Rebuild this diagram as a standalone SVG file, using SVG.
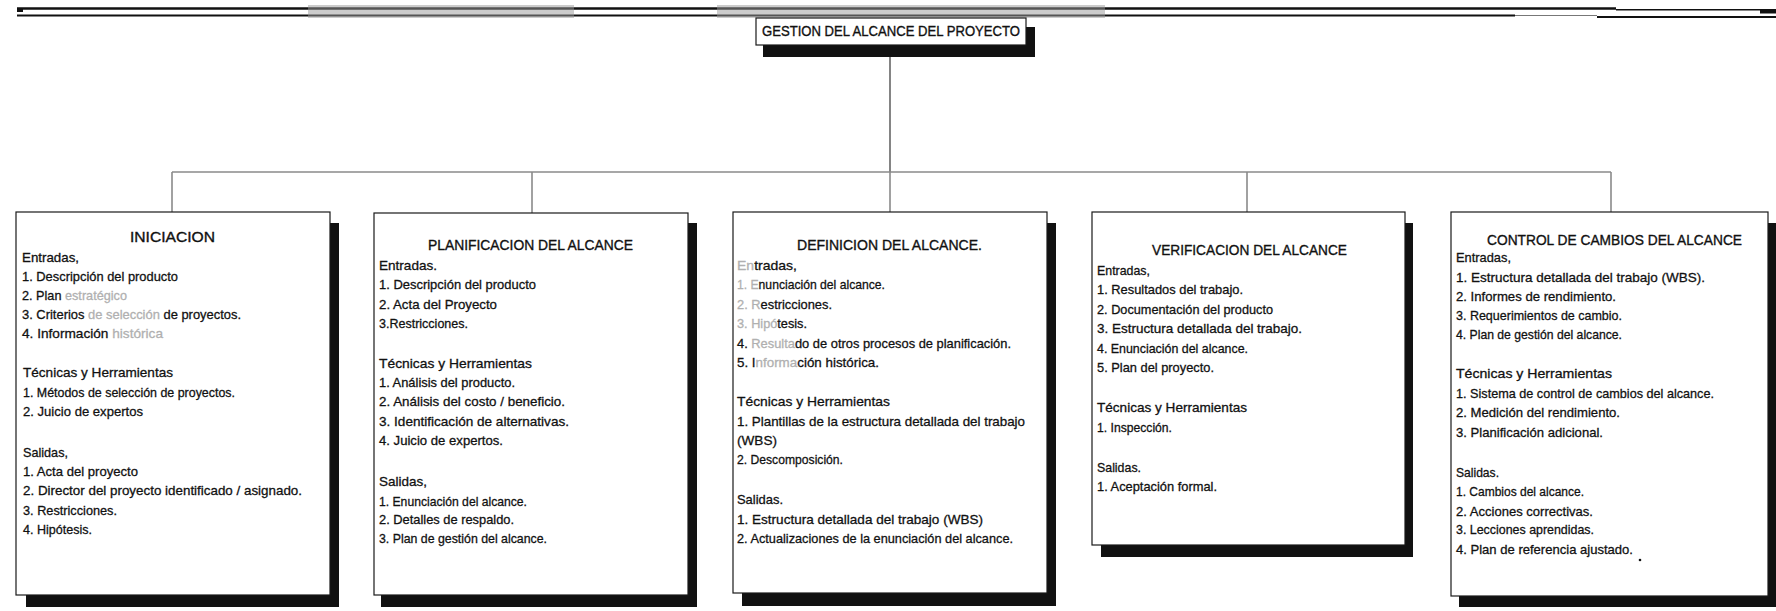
<svg xmlns="http://www.w3.org/2000/svg" width="1776" height="611" viewBox="0 0 1776 611">
  <defs>
    <style>
      .frame { fill: #fff; stroke: #1a1a1a; stroke-width: 1.2; }
      .shadow { fill: #111; }
      .rule { stroke: #111; fill: none; }
      .link { stroke: #8a8a8a; stroke-width: 1.6; fill: none; }
      .stem { stroke: #333; stroke-width: 1.2; fill: none; }
      .t { font-family: "Liberation Sans", Arial, sans-serif; font-size: 13.5px; fill: #111; stroke: #111; stroke-width: 0.3; }
      .h { font-family: "Liberation Sans", Arial, sans-serif; font-size: 14px; fill: #111; stroke: #111; stroke-width: 0.35; }
      .g { fill: #b0b0b0; stroke: #b0b0b0; }
    </style>
  </defs>
  <rect width="1776" height="611" fill="#fff"/>

  <!-- page header rules -->
  <g id="header-rules">
    <path class="rule" d="M17,8.5 H1616" stroke-width="2.6"/>
    <path class="rule" d="M1616,9.8 H1776" stroke-width="1.6"/>
    <rect x="17" y="8" width="6" height="4" fill="#111"/>
    <path class="rule" d="M17,15.5 H1515" stroke-width="1.8"/>
    <path d="M1515,15.5 H1597" stroke="#777" stroke-width="1"/>
    <path class="rule" d="M1597,17 H1776" stroke-width="2.2"/>
    <rect x="1760" y="10" width="16" height="3.5" fill="#111"/>
    <rect x="308" y="5" width="266" height="13" fill="#9a9a9a" opacity="0.5"/>
    <rect x="717" y="5" width="388" height="13" fill="#9a9a9a" opacity="0.5"/>
  </g>

  <!-- connectors -->
  <g id="connectors">
    <path class="stem" d="M890,57 V172"/>
    <path class="link" d="M172,172 H1611"/>
    <path class="link" d="M172,172 V212"/>
    <path class="link" d="M532,172 V213"/>
    <path class="link" d="M890,172 V212"/>
    <path class="link" d="M1247,172 V212"/>
    <path class="link" d="M1611,172 V212"/>
  </g>

  <!-- root -->
  <g id="gestion-alcance">
    <rect class="shadow" x="763" y="27" width="272" height="30"/>
    <rect class="frame" x="756" y="18" width="270" height="27"/>
    <text class="h" x="762" y="36" textLength="258" lengthAdjust="spacingAndGlyphs" font-size="15">GESTION DEL ALCANCE DEL PROYECTO</text>
  </g>

  <!-- 1 -->
  <g id="iniciacion">
    <rect class="shadow" x="26" y="223" width="313" height="384"/>
    <rect class="frame" x="16" y="212" width="314" height="383"/>
    <text class="h" x="130" y="242" textLength="85" lengthAdjust="spacingAndGlyphs">INICIACION</text>
    <text class="t" x="22" y="262" textLength="57" lengthAdjust="spacingAndGlyphs">Entradas,</text>
    <text class="t" x="22" y="281" textLength="156" lengthAdjust="spacingAndGlyphs">1. Descripción del producto</text>
    <text class="t" x="22" y="300" textLength="105" lengthAdjust="spacingAndGlyphs">2. Plan <tspan class="g">estratégico</tspan></text>
    <text class="t" x="22" y="319" textLength="219" lengthAdjust="spacingAndGlyphs">3. Criterios <tspan class="g">de selección</tspan> de proyectos.</text>
    <text class="t" x="22" y="338" textLength="141" lengthAdjust="spacingAndGlyphs">4. Información <tspan class="g">histórica</tspan></text>
    <text class="t" x="23" y="377" textLength="150" lengthAdjust="spacingAndGlyphs">Técnicas y Herramientas</text>
    <text class="t" x="23" y="397" textLength="212" lengthAdjust="spacingAndGlyphs">1. Métodos de selección de proyectos.</text>
    <text class="t" x="23" y="416" textLength="120" lengthAdjust="spacingAndGlyphs">2. Juicio de expertos</text>
    <text class="t" x="23" y="457" textLength="45" lengthAdjust="spacingAndGlyphs">Salidas,</text>
    <text class="t" x="23" y="476" textLength="115" lengthAdjust="spacingAndGlyphs">1. Acta del proyecto</text>
    <text class="t" x="23" y="495" textLength="279" lengthAdjust="spacingAndGlyphs">2. Director del proyecto identificado / asignado.</text>
    <text class="t" x="23" y="515" textLength="94" lengthAdjust="spacingAndGlyphs">3. Restricciones.</text>
    <text class="t" x="23" y="534" textLength="69" lengthAdjust="spacingAndGlyphs">4. Hipótesis.</text>
  </g>

  <!-- 2 -->
  <g id="planificacion-alcance">
    <rect class="shadow" x="381" y="223" width="316" height="384"/>
    <rect class="frame" x="374" y="213" width="314" height="382"/>
    <text class="h" x="428" y="250" textLength="205" lengthAdjust="spacingAndGlyphs">PLANIFICACION DEL ALCANCE</text>
    <text class="t" x="379" y="270" textLength="58" lengthAdjust="spacingAndGlyphs">Entradas.</text>
    <text class="t" x="379" y="289" textLength="157" lengthAdjust="spacingAndGlyphs">1. Descripción del producto</text>
    <text class="t" x="379" y="309" textLength="118" lengthAdjust="spacingAndGlyphs">2. Acta del Proyecto</text>
    <text class="t" x="379" y="328" textLength="89" lengthAdjust="spacingAndGlyphs">3.Restricciones.</text>
    <text class="t" x="379" y="368" textLength="153" lengthAdjust="spacingAndGlyphs">Técnicas y Herramientas</text>
    <text class="t" x="379" y="387" textLength="136" lengthAdjust="spacingAndGlyphs">1. Análisis del producto.</text>
    <text class="t" x="379" y="406" textLength="186" lengthAdjust="spacingAndGlyphs">2. Análisis del costo / beneficio.</text>
    <text class="t" x="379" y="426" textLength="190" lengthAdjust="spacingAndGlyphs">3. Identificación de alternativas.</text>
    <text class="t" x="379" y="445" textLength="124" lengthAdjust="spacingAndGlyphs">4. Juicio de expertos.</text>
    <text class="t" x="379" y="486" textLength="48" lengthAdjust="spacingAndGlyphs">Salidas,</text>
    <text class="t" x="379" y="506" textLength="148" lengthAdjust="spacingAndGlyphs">1. Enunciación del alcance.</text>
    <text class="t" x="379" y="524" textLength="135" lengthAdjust="spacingAndGlyphs">2. Detalles de respaldo.</text>
    <text class="t" x="379" y="543" textLength="168" lengthAdjust="spacingAndGlyphs">3. Plan de gestión del alcance.</text>
  </g>

  <!-- 3 -->
  <g id="definicion-alcance">
    <rect class="shadow" x="742" y="223" width="314" height="383"/>
    <rect class="frame" x="733" y="212" width="314" height="381"/>
    <text class="h" x="797" y="250" textLength="185" lengthAdjust="spacingAndGlyphs">DEFINICION DEL ALCANCE.</text>
    <text class="t" x="737" y="270" textLength="60" lengthAdjust="spacingAndGlyphs"><tspan class="g">En</tspan>tradas,</text>
    <text class="t" x="737" y="289" textLength="148" lengthAdjust="spacingAndGlyphs"><tspan class="g">1. E</tspan>nunciación del alcance.</text>
    <text class="t" x="737" y="309" textLength="95" lengthAdjust="spacingAndGlyphs"><tspan class="g">2. R</tspan>estricciones.</text>
    <text class="t" x="737" y="328" textLength="70" lengthAdjust="spacingAndGlyphs"><tspan class="g">3. Hipó</tspan>tesis.</text>
    <text class="t" x="737" y="348" textLength="274" lengthAdjust="spacingAndGlyphs">4. <tspan class="g">Resulta</tspan>do de otros procesos de planificación.</text>
    <text class="t" x="737" y="367" textLength="142" lengthAdjust="spacingAndGlyphs">5. I<tspan class="g">nforma</tspan>ción histórica.</text>
    <text class="t" x="737" y="406" textLength="153" lengthAdjust="spacingAndGlyphs">Técnicas y Herramientas</text>
    <text class="t" x="737" y="426" textLength="288" lengthAdjust="spacingAndGlyphs">1. Plantillas de la estructura detallada del trabajo</text>
    <text class="t" x="737" y="445" textLength="40" lengthAdjust="spacingAndGlyphs">(WBS)</text>
    <text class="t" x="737" y="464" textLength="106" lengthAdjust="spacingAndGlyphs">2. Descomposición.</text>
    <text class="t" x="737" y="504" textLength="46" lengthAdjust="spacingAndGlyphs">Salidas.</text>
    <text class="t" x="737" y="524" textLength="246" lengthAdjust="spacingAndGlyphs">1. Estructura detallada del trabajo (WBS)</text>
    <text class="t" x="737" y="543" textLength="276" lengthAdjust="spacingAndGlyphs">2. Actualizaciones de la enunciación del alcance.</text>
  </g>

  <!-- 4 -->
  <g id="verificacion-alcance">
    <rect class="shadow" x="1101" y="223" width="312" height="334"/>
    <rect class="frame" x="1092" y="212" width="313" height="333"/>
    <text class="h" x="1152" y="255" textLength="195" lengthAdjust="spacingAndGlyphs">VERIFICACION DEL ALCANCE</text>
    <text class="t" x="1097" y="275" textLength="53" lengthAdjust="spacingAndGlyphs">Entradas,</text>
    <text class="t" x="1097" y="294" textLength="146" lengthAdjust="spacingAndGlyphs">1. Resultados del trabajo.</text>
    <text class="t" x="1097" y="314" textLength="176" lengthAdjust="spacingAndGlyphs">2. Documentación del producto</text>
    <text class="t" x="1097" y="333" textLength="205" lengthAdjust="spacingAndGlyphs">3. Estructura detallada del trabajo.</text>
    <text class="t" x="1097" y="353" textLength="151" lengthAdjust="spacingAndGlyphs">4. Enunciación del alcance.</text>
    <text class="t" x="1097" y="372" textLength="117" lengthAdjust="spacingAndGlyphs">5. Plan del proyecto.</text>
    <text class="t" x="1097" y="412" textLength="150" lengthAdjust="spacingAndGlyphs">Técnicas y Herramientas</text>
    <text class="t" x="1097" y="432" textLength="75" lengthAdjust="spacingAndGlyphs">1. Inspección.</text>
    <text class="t" x="1097" y="472" textLength="44" lengthAdjust="spacingAndGlyphs">Salidas.</text>
    <text class="t" x="1097" y="491" textLength="120" lengthAdjust="spacingAndGlyphs">1. Aceptación formal.</text>
  </g>

  <!-- 5 -->
  <g id="control-cambios-alcance">
    <rect class="shadow" x="1459" y="223" width="317" height="384"/>
    <rect class="frame" x="1451" y="212" width="317" height="384"/>
    <text class="h" x="1487" y="245" textLength="255" lengthAdjust="spacingAndGlyphs">CONTROL DE CAMBIOS DEL ALCANCE</text>
    <text class="t" x="1456" y="262" textLength="55" lengthAdjust="spacingAndGlyphs">Entradas,</text>
    <text class="t" x="1456" y="282" textLength="249" lengthAdjust="spacingAndGlyphs">1. Estructura detallada del trabajo (WBS).</text>
    <text class="t" x="1456" y="301" textLength="160" lengthAdjust="spacingAndGlyphs">2. Informes de rendimiento.</text>
    <text class="t" x="1456" y="320" textLength="166" lengthAdjust="spacingAndGlyphs">3. Requerimientos de cambio.</text>
    <text class="t" x="1456" y="339" textLength="166" lengthAdjust="spacingAndGlyphs">4. Plan de gestión del alcance.</text>
    <text class="t" x="1456" y="378" textLength="156" lengthAdjust="spacingAndGlyphs">Técnicas y Herramientas</text>
    <text class="t" x="1456" y="398" textLength="258" lengthAdjust="spacingAndGlyphs">1. Sistema de control de cambios del alcance.</text>
    <text class="t" x="1456" y="417" textLength="164" lengthAdjust="spacingAndGlyphs">2. Medición del rendimiento.</text>
    <text class="t" x="1456" y="437" textLength="147" lengthAdjust="spacingAndGlyphs">3. Planificación adicional.</text>
    <text class="t" x="1456" y="477" textLength="43" lengthAdjust="spacingAndGlyphs">Salidas.</text>
    <text class="t" x="1456" y="496" textLength="128" lengthAdjust="spacingAndGlyphs">1. Cambios del alcance.</text>
    <text class="t" x="1456" y="516" textLength="137" lengthAdjust="spacingAndGlyphs">2. Acciones correctivas.</text>
    <text class="t" x="1456" y="534" textLength="138" lengthAdjust="spacingAndGlyphs">3. Lecciones aprendidas.</text>
    <text class="t" x="1456" y="554" textLength="177" lengthAdjust="spacingAndGlyphs">4. Plan de referencia ajustado.</text>
    <circle cx="1640" cy="560" r="1.3" fill="#111"/>
  </g>
</svg>
